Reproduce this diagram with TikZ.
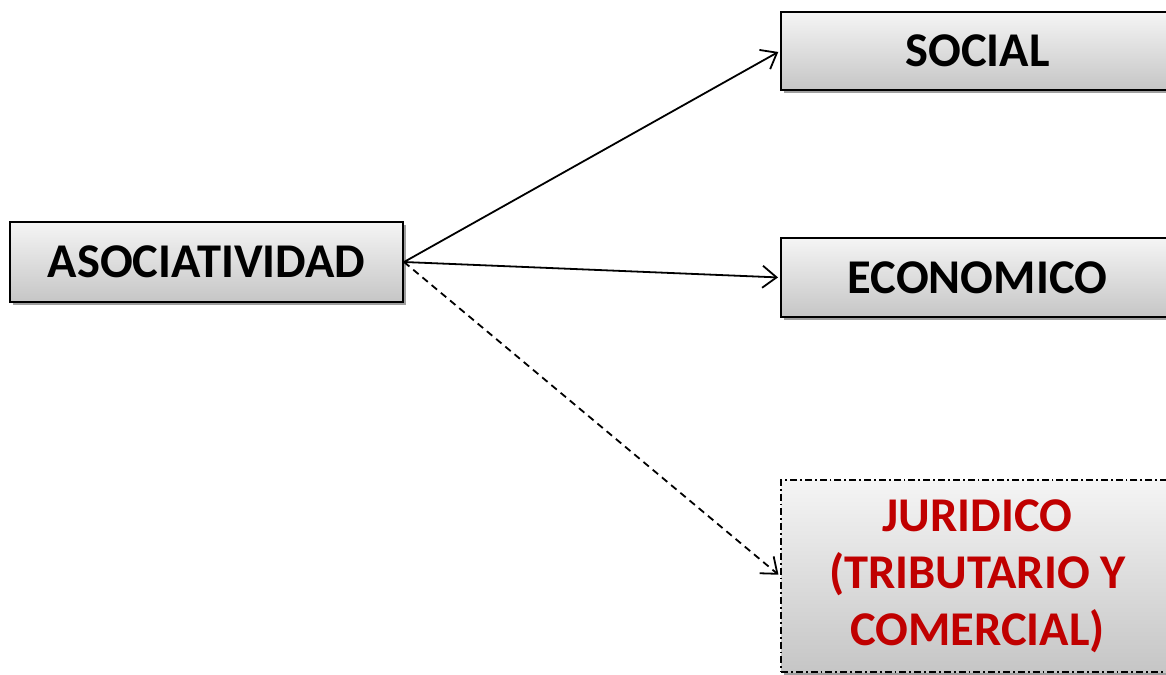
\documentclass[tikz,border=0pt]{standalone}
\usepackage{fontspec}
\setmainfont{Carlito}
\usetikzlibrary{arrows.meta,shadows}
\definecolor{jred}{HTML}{C00000}
\tikzset{
  box/.style={rectangle, draw=black, line width=2pt, top color=gray!8, bottom color=gray!45,
    minimum width=393pt, inner sep=0pt, align=center,
    font=\fontsize{48.5}{57}\selectfont\bfseries,
    drop shadow={shadow xshift=3pt, shadow yshift=-3pt, fill=gray!75, opacity=1}},
  conn/.style={line width=1.8pt, -{Straight Barb[length=14pt,width=22pt,line width=1.8pt]}, shorten >=2pt},
}
\begin{document}
\begin{tikzpicture}[x=1pt,y=-1pt]
\useasboundingbox (0,0) rectangle (1166,674);
\node[box, minimum height=80pt] (a) at (206.5,262) {ASOCIATIVIDAD};
\node[box, minimum height=78pt] (s) at (977.5,51) {SOCIAL};
\node[box, minimum height=79pt] (e) at (977.5,277.5) {ECONOMICO};
\node[box, minimum height=192pt, text=jred, dash pattern=on 7pt off 3pt on 1.8pt off 3pt] (j) at (977.5,576) {JURIDICO\\(TRIBUTARIO Y\\COMERCIAL)};
\draw[conn] (a.east) -- (s.west);
\draw[conn] (a.east) -- (e.west);
\draw[conn, dash pattern=on 7pt off 5pt] (a.east) -- (j.west);
\end{tikzpicture}
\end{document}
